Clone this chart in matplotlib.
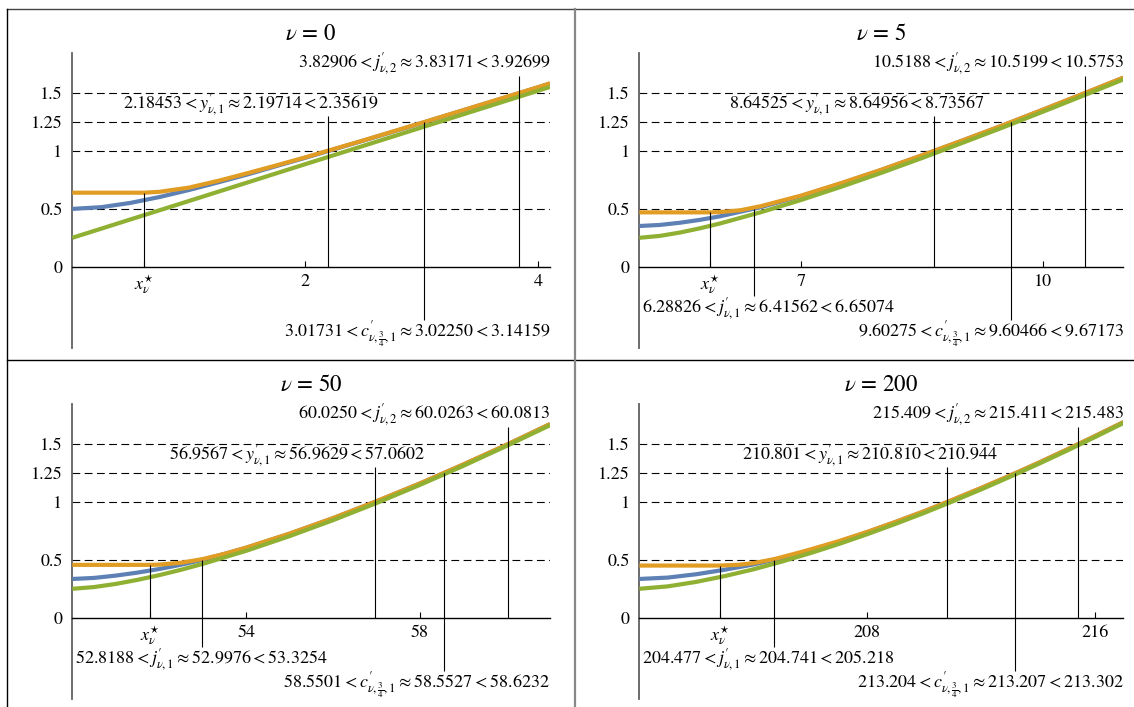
import matplotlib
matplotlib.use("Agg")
import matplotlib.pyplot as plt
from matplotlib.lines import Line2D

# --- 1. Style ---
plt.rcParams['font.family'] = ['STIXGeneral', 'DejaVu Serif']
plt.rcParams['mathtext.fontset'] = 'stix'
plt.rcParams['font.size'] = 13

BLUE = '#5E81B5'
ORANGE = '#E19C24'
GREEN = '#8FB032'

# --- 2. Data ---
# nu = 0
x0_blue = [0, 0.25, 0.5, 0.75, 1.0, 1.25, 1.5, 1.75, 2.0, 2.5, 3.0, 3.5, 4.0, 4.1]
y0_blue = [0.500, 0.515, 0.552, 0.603, 0.663, 0.729, 0.797, 0.870, 0.942, 1.091, 1.243, 1.397, 1.552, 1.584]
x0_orange = [0, 0.617, 0.75, 1.0, 1.25, 1.5, 1.75, 2.0, 2.5, 3.0, 3.5, 4.0, 4.1]
y0_orange = [0.640, 0.640, 0.648, 0.684, 0.742, 0.808, 0.876, 0.946, 1.093, 1.245, 1.399, 1.554, 1.586]
x0_green = [0, 1, 2, 3, 4, 4.1]
y0_green = [0.250, 0.568, 0.887, 1.205, 1.523, 1.555]
marks0 = {'xstar': 0.617, 'jp1': None, 'yp1': 2.19714, 'cp': 3.02250, 'jp2': 3.83171}
ticks0 = [2, 4]
text0 = [r"$3.82906 < j^{\prime}_{\nu,2} \approx 3.83171 < 3.92699$",
         r"$2.18453 < y^{\prime}_{\nu,1} \approx 2.19714 < 2.35619$",
         None,
         r"$3.01731 < c^{\prime}_{\nu,\frac{3}{4},1} \approx 3.02250 < 3.14159$"]

# nu = 5
x5_blue = [5, 5.25, 5.5, 5.75, 6, 6.5, 7, 7.5, 8, 8.5, 9, 9.5, 10, 10.5, 11]
y5_blue = [0.352, 0.361, 0.380, 0.405, 0.436, 0.514, 0.610, 0.720, 0.837, 0.962, 1.090, 1.221, 1.357, 1.495, 1.635]
x5_orange = [5, 5.88, 6.0, 6.25, 6.5, 7, 7.5, 8, 8.5, 9, 9.5, 10, 10.5, 11]
y5_orange = [0.470, 0.470, 0.473, 0.488, 0.523, 0.614, 0.723, 0.839, 0.963, 1.091, 1.222, 1.358, 1.496, 1.636]
x5_green = [5, 5.25, 5.5, 5.75, 6, 6.5, 7, 7.5, 8, 8.5, 9, 9.5, 10, 10.5, 11]
y5_green = [0.250, 0.266, 0.295, 0.332, 0.374, 0.470, 0.576, 0.691, 0.812, 0.939, 1.070, 1.203, 1.340, 1.479, 1.620]
marks5 = {'xstar': 5.88, 'jp1': 6.41562, 'yp1': 8.64956, 'cp': 9.60466, 'jp2': 10.5199}
ticks5 = [7, 10]
text5 = [r"$10.5188 < j^{\prime}_{\nu,2} \approx 10.5199 < 10.5753$",
         r"$8.64525 < y^{\prime}_{\nu,1} \approx 8.64956 < 8.73567$",
         r"$6.28826 < j^{\prime}_{\nu,1} \approx 6.41562 < 6.65074$",
         r"$9.60275 < c^{\prime}_{\nu,\frac{3}{4},1} \approx 9.60466 < 9.67173$"]

# nu = 50
x50_blue = [50, 50.5, 51, 51.5, 52, 52.5, 53, 54, 55, 56, 57, 58, 59, 60, 61]
y50_blue = [0.335, 0.344, 0.364, 0.390, 0.421, 0.458, 0.500, 0.604, 0.726, 0.860, 1.006, 1.160, 1.324, 1.495, 1.674]
x50_orange = [50, 51.78, 52, 52.5, 53, 53.5, 54, 55, 56, 57, 58, 59, 60, 61]
y50_orange = [0.457, 0.457, 0.459, 0.475, 0.507, 0.552, 0.606, 0.727, 0.861, 1.007, 1.161, 1.325, 1.496, 1.675]
x50_green = [50, 50.5, 51, 51.5, 52, 52.5, 53, 54, 55, 56, 57, 58, 59, 60, 61]
y50_green = [0.250, 0.265, 0.292, 0.327, 0.368, 0.414, 0.465, 0.578, 0.705, 0.843, 0.991, 1.148, 1.313, 1.486, 1.665]
marks50 = {'xstar': 51.78, 'jp1': 52.9976, 'yp1': 56.9629, 'cp': 58.5527, 'jp2': 60.0263}
ticks50 = [54, 58]
text50 = [r"$60.0250 < j^{\prime}_{\nu,2} \approx 60.0263 < 60.0813$",
          r"$56.9567 < y^{\prime}_{\nu,1} \approx 56.9629 < 57.0602$",
          r"$52.8188 < j^{\prime}_{\nu,1} \approx 52.9976 < 53.3254$",
          r"$58.5501 < c^{\prime}_{\nu,\frac{3}{4},1} \approx 58.5527 < 58.6232$"]

# nu = 200
x200_blue = [200, 201, 202, 203, 204, 205, 206, 207, 208, 209, 210, 211, 212, 213, 214, 215, 216, 217]
y200_blue = [0.335, 0.347, 0.376, 0.415, 0.460, 0.516, 0.582, 0.657, 0.740, 0.828, 0.920, 1.019, 1.121, 1.227, 1.337, 1.452, 1.570, 1.691]
x200_orange = [200, 202.82, 203.5, 204, 204.74, 205.5, 206, 207, 208, 209, 210, 211, 212, 213, 214, 215, 216, 217]
y200_orange = [0.451, 0.451, 0.458, 0.472, 0.507, 0.556, 0.590, 0.662, 0.742, 0.829, 0.921, 1.020, 1.122, 1.228, 1.338, 1.453, 1.571, 1.692]
x200_green = [200, 201, 202, 203, 204, 205, 206, 207, 208, 209, 210, 211, 212, 213, 214, 215, 216, 217]
y200_green = [0.250, 0.271, 0.310, 0.360, 0.418, 0.485, 0.558, 0.637, 0.722, 0.812, 0.906, 1.006, 1.109, 1.217, 1.328, 1.443, 1.562, 1.684]
marks200 = {'xstar': 202.82, 'jp1': 204.741, 'yp1': 210.810, 'cp': 213.207, 'jp2': 215.411}
ticks200 = [208, 216]
text200 = [r"$215.409 < j^{\prime}_{\nu,2} \approx 215.411 < 215.483$",
           r"$210.801 < y^{\prime}_{\nu,1} \approx 210.810 < 210.944$",
           r"$204.477 < j^{\prime}_{\nu,1} \approx 204.741 < 205.218$",
           r"$213.204 < c^{\prime}_{\nu,\frac{3}{4},1} \approx 213.207 < 213.302$"]

y_levels = [0.5, 1, 1.25, 1.5]
y_ticks = [0, 0.5, 1, 1.25, 1.5]
y_ticklabels = ['0', '0.5', '1', '1.25', '1.5']

# panel layout in pixels: (nu, left, top, width, xlim, data...)
W, H = 1134, 707
panels = [
    (0, 72.3, 53.3, 477.7, (0, 4.1), x0_blue, y0_blue, x0_orange, y0_orange, x0_green, y0_green, marks0, ticks0, text0),
    (5, 639.4, 53.3, 484.0, (5, 11), x5_blue, y5_blue, x5_orange, y5_orange, x5_green, y5_green, marks5, ticks5, text5),
    (50, 72.3, 404.3, 477.7, (50, 61), x50_blue, y50_blue, x50_orange, y50_orange, x50_green, y50_green, marks50, ticks50, text50),
    (200, 639.4, 404.3, 484.0, (200, 217), x200_blue, y200_blue, x200_orange, y200_orange, x200_green, y200_green, marks200, ticks200, text200),
]
AX_H = 295.0
YLIM = (-0.706, 1.846)

fig = plt.figure(figsize=(W / 100, H / 100), dpi=100)

# --- 3. Frame lines between panels ---
def fig_line(x0, y0, x1, y1, **kw):
    fig.add_artist(Line2D([x0 / W, x1 / W], [1 - y0 / H, 1 - y1 / H],
                          transform=fig.transFigure, **kw))

fig_line(7.3, 9.3, W, 9.3, color='#444444', lw=1.0)
fig_line(7.3, 9.3, 7.3, H, color='black', lw=1.0)
fig_line(7.3, 360, W, 360, color='black', lw=1.0)
fig_line(574.5, 9.3, 574.5, H, color='#888888', lw=1.6)

# --- 4. Panels ---
for (nu, left, top, width, xlim, xb, yb, xo, yo, xg, yg, marks, ticks, texts) in panels:
    ax = fig.add_axes([left / W, 1 - (top + AX_H) / H, width / W, AX_H / H])
    ax.set_xlim(*xlim)
    ax.set_ylim(*YLIM)

    for s in ['top', 'right']:
        ax.spines[s].set_visible(False)
    ax.spines['left'].set_color('#606060')
    ax.spines['left'].set_linewidth(1.3)
    ax.spines['bottom'].set_position(('data', 0))
    ax.spines['bottom'].set_linewidth(1.0)

    # dashed reference levels
    for lv in y_levels:
        ax.axhline(lv, color='black', lw=0.8, dashes=(7, 4), zorder=1)

    # curves
    ax.plot(xb, yb, color=BLUE, lw=3.0, solid_capstyle='butt', zorder=3)
    ax.plot(xo, yo, color=ORANGE, lw=3.0, solid_capstyle='butt', zorder=4)
    ax.plot(xg, yg, color=GREEN, lw=3.0, solid_capstyle='butt', zorder=5)

    # vertical markers
    vkw = dict(color='black', lw=0.8, zorder=6)
    ax.vlines(marks['xstar'], 0, yo[0], **vkw)
    if marks['jp1'] is not None:
        ax.vlines(marks['jp1'], -0.255, 0.5, **vkw)
    ax.vlines(marks['yp1'], 0, 1.30, **vkw)
    ax.vlines(marks['cp'], -0.46, 1.25, **vkw)
    ax.vlines(marks['jp2'], 0, 1.65, **vkw)

    # ticks
    ax.set_yticks(y_ticks)
    ax.set_yticklabels(y_ticklabels)
    ax.tick_params(axis='y', length=0, pad=7)
    ax.set_xticks([marks['xstar']] + ticks)
    ax.set_xticklabels([r'$x^{\star}_{\nu}$'] + [str(t) for t in ticks])
    ax.tick_params(axis='x', direction='in', length=4, width=0.8, pad=5)

    # title
    ax.text(0.5, 1 + 19.0 / AX_H, r'$\nu \,=\, %d$' % nu, transform=ax.transAxes,
            ha='center', va='center', fontsize=16.5)

    # annotations
    ax.text(xlim[1], 1.721, texts[0], ha='right', va='baseline')
    ax.annotate(texts[1], xy=(marks['yp1'], 1.370), xytext=(36, 0),
                textcoords='offset points', ha='right', va='baseline')
    if texts[2] is not None:
        ax.annotate(texts[2], xy=(xlim[0], -0.403), xytext=(2, 0),
                    textcoords='offset points', ha='left', va='baseline')
    ax.text(xlim[1], -0.606, texts[3], ha='right', va='baseline')

fig.savefig('out.png', dpi=100)
